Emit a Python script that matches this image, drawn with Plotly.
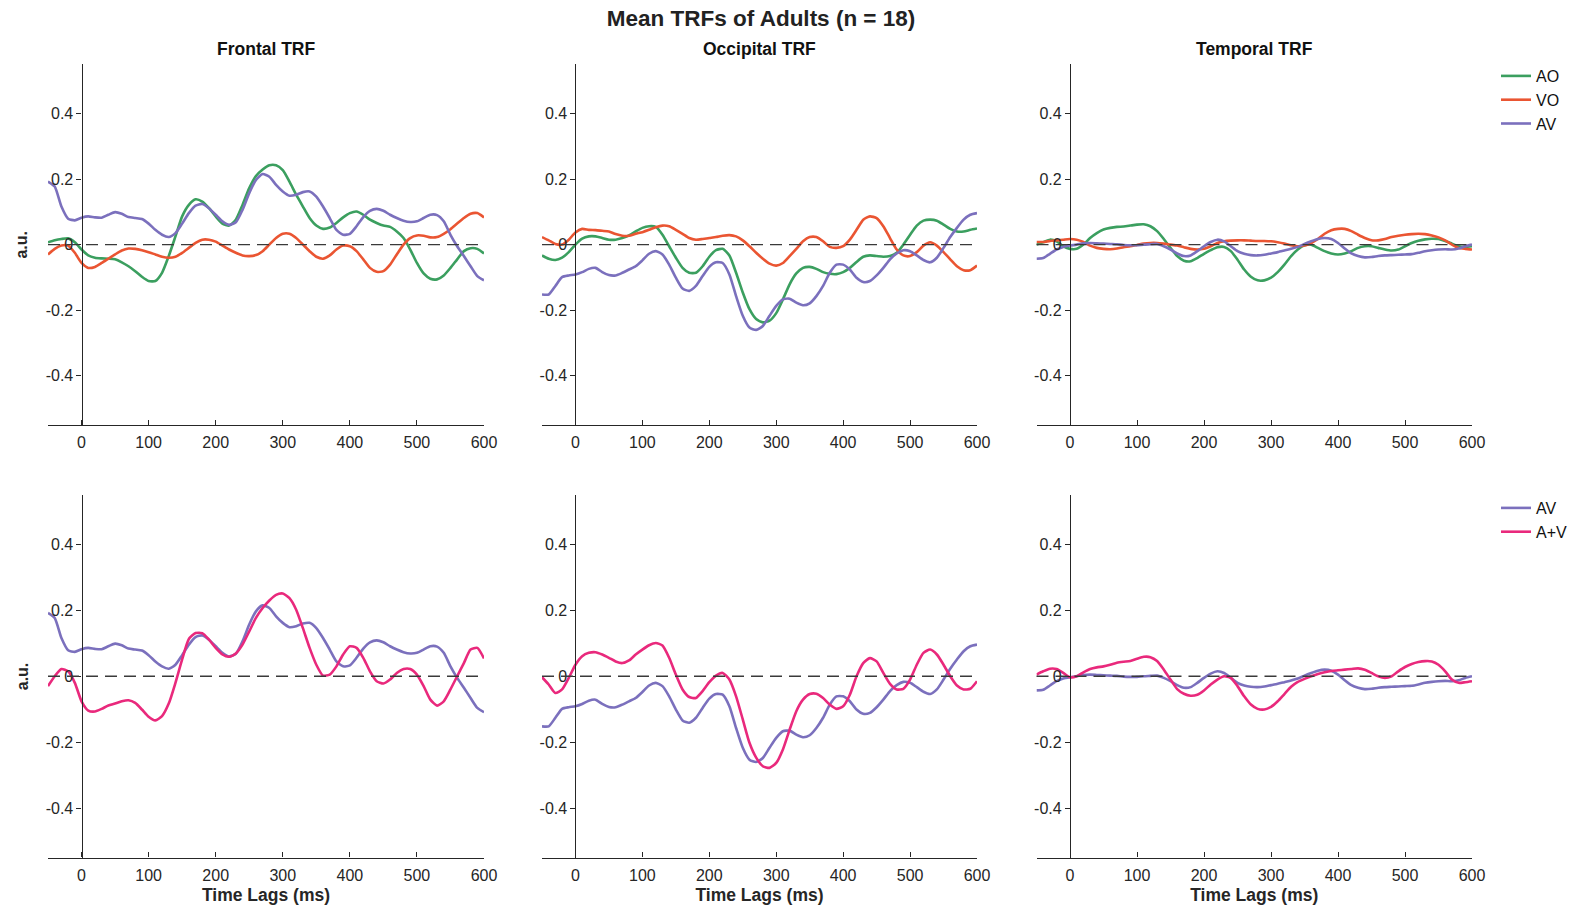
import plotly.graph_objects as go

lags = list(range(-50, 601, 10))

frontal_ao = [0.007, 0.013, 0.017, 0.019, 0.007, -0.015, -0.033, -0.040, -0.042, -0.043,
              -0.045, -0.054, -0.066, -0.081, -0.098, -0.111, -0.111, -0.086, -0.035, 0.025,
              0.086, 0.121, 0.138, 0.131, 0.111, 0.086, 0.064, 0.058, 0.076, 0.121,
              0.172, 0.209, 0.229, 0.242, 0.242, 0.227, 0.192, 0.152, 0.116, 0.081,
              0.058, 0.048, 0.052, 0.066, 0.083, 0.096, 0.101, 0.091, 0.076, 0.066,
              0.058, 0.054, 0.040, 0.020, -0.015, -0.056, -0.088, -0.104, -0.106, -0.094,
              -0.071, -0.045, -0.020, -0.011, -0.013, -0.027]
frontal_vo = [-0.030, -0.013, -0.003, -0.003, -0.025, -0.056, -0.071, -0.068, -0.056, -0.043,
              -0.030, -0.018, -0.012, -0.013, -0.017, -0.023, -0.030, -0.037, -0.040, -0.037,
              -0.025, -0.010, 0.005, 0.015, 0.015, 0.009, -0.003, -0.015, -0.025, -0.033,
              -0.035, -0.032, -0.020, 0.000, 0.020, 0.033, 0.033, 0.020, 0.000, -0.020,
              -0.037, -0.043, -0.033, -0.015, -0.003, -0.005, -0.020, -0.045, -0.071, -0.083,
              -0.081, -0.061, -0.030, 0.000, 0.020, 0.028, 0.027, 0.022, 0.023, 0.033,
              0.047, 0.064, 0.081, 0.094, 0.096, 0.083]
frontal_av = [0.192, 0.177, 0.116, 0.079, 0.074, 0.082, 0.086, 0.083, 0.082, 0.091,
              0.099, 0.094, 0.084, 0.081, 0.078, 0.064, 0.045, 0.030, 0.023, 0.035,
              0.064, 0.096, 0.119, 0.124, 0.111, 0.091, 0.071, 0.060, 0.068, 0.106,
              0.157, 0.197, 0.215, 0.207, 0.182, 0.162, 0.149, 0.152, 0.160, 0.162,
              0.146, 0.116, 0.081, 0.045, 0.030, 0.033, 0.056, 0.084, 0.103, 0.109,
              0.103, 0.091, 0.081, 0.073, 0.069, 0.071, 0.081, 0.091, 0.090, 0.071,
              0.030, -0.005, -0.035, -0.066, -0.096, -0.109]
frontal_apv = [-0.030, 0.000, 0.022, 0.015, -0.020, -0.076, -0.104, -0.107, -0.099, -0.089,
               -0.083, -0.076, -0.073, -0.081, -0.101, -0.123, -0.134, -0.121, -0.083, -0.020,
               0.051, 0.113, 0.131, 0.131, 0.111, 0.086, 0.066, 0.059, 0.069, 0.096,
               0.136, 0.177, 0.207, 0.230, 0.247, 0.251, 0.237, 0.202, 0.146, 0.086,
               0.035, 0.002, 0.005, 0.030, 0.066, 0.091, 0.086, 0.056, 0.015, -0.015,
               -0.022, -0.010, 0.010, 0.022, 0.022, 0.005, -0.030, -0.071, -0.089, -0.076,
               -0.040, 0.000, 0.040, 0.081, 0.086, 0.054]

occipital_ao = [-0.033, -0.043, -0.047, -0.040, -0.023, 0.000, 0.018, 0.025, 0.025, 0.020,
                0.015, 0.015, 0.020, 0.028, 0.040, 0.051, 0.056, 0.054, 0.030, -0.005,
                -0.040, -0.071, -0.086, -0.086, -0.066, -0.037, -0.017, -0.013, -0.033, -0.086,
                -0.146, -0.197, -0.227, -0.237, -0.232, -0.209, -0.167, -0.121, -0.088, -0.071,
                -0.068, -0.074, -0.084, -0.089, -0.090, -0.084, -0.071, -0.053, -0.037, -0.033,
                -0.035, -0.037, -0.035, -0.025, 0.000, 0.030, 0.058, 0.073, 0.076, 0.073,
                0.061, 0.048, 0.040, 0.040, 0.045, 0.049]
occipital_vo = [0.023, 0.013, 0.002, 0.000, 0.015, 0.037, 0.048, 0.045, 0.044, 0.042,
                0.040, 0.032, 0.027, 0.027, 0.033, 0.038, 0.045, 0.053, 0.058, 0.056,
                0.045, 0.033, 0.020, 0.015, 0.017, 0.020, 0.023, 0.027, 0.029, 0.025,
                0.013, -0.005, -0.025, -0.043, -0.058, -0.064, -0.056, -0.035, -0.013, 0.010,
                0.023, 0.023, 0.010, -0.007, -0.010, -0.005, 0.015, 0.045, 0.076, 0.086,
                0.081, 0.056, 0.020, -0.015, -0.033, -0.035, -0.023, -0.003, 0.007, -0.003,
                -0.023, -0.045, -0.066, -0.078, -0.078, -0.064]
occipital_av = [-0.152, -0.152, -0.126, -0.099, -0.094, -0.091, -0.084, -0.074, -0.071, -0.084,
                -0.093, -0.094, -0.086, -0.076, -0.066, -0.048, -0.028, -0.020, -0.030, -0.061,
                -0.101, -0.134, -0.141, -0.126, -0.096, -0.068, -0.054, -0.056, -0.091, -0.157,
                -0.217, -0.253, -0.260, -0.248, -0.217, -0.187, -0.167, -0.165, -0.177, -0.185,
                -0.179, -0.157, -0.126, -0.086, -0.061, -0.061, -0.076, -0.101, -0.114, -0.111,
                -0.094, -0.071, -0.045, -0.027, -0.017, -0.020, -0.033, -0.047, -0.054, -0.040,
                -0.010, 0.023, 0.051, 0.076, 0.091, 0.096]
occipital_apv = [-0.003, -0.025, -0.051, -0.040, -0.005, 0.035, 0.061, 0.071, 0.073, 0.066,
                 0.056, 0.045, 0.040, 0.048, 0.066, 0.081, 0.094, 0.101, 0.093, 0.056,
                 0.005, -0.040, -0.063, -0.066, -0.045, -0.018, 0.002, 0.010, -0.010, -0.061,
                 -0.131, -0.202, -0.247, -0.273, -0.278, -0.263, -0.222, -0.162, -0.106, -0.071,
                 -0.054, -0.053, -0.066, -0.086, -0.099, -0.091, -0.056, 0.000, 0.040, 0.055,
                 0.045, 0.010, -0.023, -0.040, -0.038, -0.010, 0.035, 0.071, 0.081, 0.066,
                 0.035, 0.000, -0.028, -0.040, -0.038, -0.015]

temporal_ao = [0.000, 0.007, 0.015, 0.010, -0.005, -0.013, -0.013, 0.000, 0.020, 0.035,
               0.046, 0.051, 0.054, 0.055, 0.058, 0.061, 0.062, 0.056, 0.041, 0.017,
               -0.010, -0.035, -0.049, -0.051, -0.041, -0.028, -0.017, -0.008, -0.007, -0.020,
               -0.046, -0.076, -0.098, -0.109, -0.109, -0.101, -0.084, -0.061, -0.035, -0.015,
               -0.002, 0.000, -0.010, -0.020, -0.027, -0.030, -0.027, -0.020, -0.010, -0.005,
               -0.005, -0.010, -0.015, -0.018, -0.015, -0.005, 0.005, 0.012, 0.016, 0.018,
               0.017, 0.011, 0.003, -0.005, -0.007, -0.005]
temporal_vo = [0.008, 0.008, 0.011, 0.013, 0.015, 0.017, 0.015, 0.008, -0.003, -0.010,
               -0.013, -0.014, -0.012, -0.008, -0.005, -0.001, 0.003, 0.005, 0.005, 0.003,
               0.000, -0.003, -0.008, -0.013, -0.015, -0.013, -0.005, 0.005, 0.010, 0.012,
               0.013, 0.013, 0.012, 0.011, 0.011, 0.010, 0.007, 0.003, -0.002, -0.005,
               -0.003, 0.005, 0.017, 0.033, 0.044, 0.048, 0.048, 0.041, 0.030, 0.020,
               0.013, 0.013, 0.017, 0.023, 0.027, 0.030, 0.032, 0.033, 0.032, 0.028,
               0.022, 0.013, 0.000, -0.010, -0.013, -0.015]
temporal_av = [-0.043, -0.041, -0.028, -0.015, -0.007, -0.003, 0.000, 0.004, 0.005, 0.004,
               0.003, 0.002, 0.001, -0.001, -0.002, -0.002, 0.000, 0.001, 0.002, -0.005,
               -0.015, -0.027, -0.035, -0.033, -0.020, -0.005, 0.008, 0.015, 0.010, -0.005,
               -0.020, -0.028, -0.032, -0.033, -0.031, -0.027, -0.023, -0.018, -0.013, -0.007,
               0.002, 0.010, 0.017, 0.020, 0.017, 0.005, -0.012, -0.027, -0.035, -0.039,
               -0.038, -0.035, -0.033, -0.032, -0.031, -0.030, -0.029, -0.025, -0.020, -0.017,
               -0.015, -0.014, -0.015, -0.012, -0.005, 0.000]
temporal_apv = [0.005, 0.015, 0.023, 0.022, 0.010, -0.003, 0.000, 0.012, 0.022, 0.027,
                0.030, 0.035, 0.041, 0.044, 0.046, 0.053, 0.059, 0.058, 0.046, 0.020,
                -0.010, -0.039, -0.053, -0.059, -0.056, -0.043, -0.025, -0.010, 0.000, -0.005,
                -0.030, -0.061, -0.086, -0.099, -0.101, -0.093, -0.076, -0.054, -0.032, -0.017,
                -0.008, 0.000, 0.007, 0.012, 0.016, 0.018, 0.020, 0.022, 0.024, 0.020,
                0.010, 0.000, -0.005, 0.000, 0.015, 0.028, 0.037, 0.043, 0.046, 0.045,
                0.035, 0.015, -0.010, -0.020, -0.018, -0.015]

region_titles = ["Frontal TRF", "Occipital TRF", "Temporal TRF"]
y_tickvals = [-0.4, -0.2, 0, 0.2, 0.4]
y_ticktext = ["-0.4", "-0.2", "0", "0.2", "0.4"]
x_tickvals = [0, 100, 200, 300, 400, 500, 600]

COLORS = {"AO": "#3b9f5f", "VO": "#ea5532", "AV": "#7b70bd", "A+V": "#e9297c"}

top_series = [
    {"AO": frontal_ao, "VO": frontal_vo, "AV": frontal_av},
    {"AO": occipital_ao, "VO": occipital_vo, "AV": occipital_av},
    {"AO": temporal_ao, "VO": temporal_vo, "AV": temporal_av},
]
bottom_series = [
    {"AV": frontal_av, "A+V": frontal_apv},
    {"AV": occipital_av, "A+V": occipital_apv},
    {"AV": temporal_av, "A+V": temporal_apv},
]

W, H = 1578, 908
col_dom = [(48 / W, 484 / W), (542 / W, 977 / W), (1036.5 / W, 1472 / W)]
row_dom = [(1 - 425 / H, 1 - 64.2 / H), (1 - 857.5 / H, 1 - 495 / H)]
XMIN, XMAX = -50, 600
YMIN, YMAX = -0.55, 0.55

FONT = "Liberation Sans, Arial, Helvetica, sans-serif"
AXC = "#262626"

fig = go.Figure()
layout = dict(
    width=W, height=H,
    margin=dict(l=0, r=0, t=0, b=0, autoexpand=False),
    paper_bgcolor="white", plot_bgcolor="white",
    font=dict(family=FONT, color=AXC, size=16),
    showlegend=True,
    annotations=[], shapes=[],
)

for r in range(2):
    for c in range(3):
        i = r * 3 + c + 1
        xn = "x" if i == 1 else f"x{i}"
        yn = "y" if i == 1 else f"y{i}"
        series = top_series[c] if r == 0 else bottom_series[c]
        for name, vals in series.items():
            fig.add_trace(go.Scatter(
                x=lags, y=vals, mode="lines", name=name,
                line=dict(color=COLORS[name], width=2.6, shape="spline", smoothing=0.6),
                xaxis=xn, yaxis=yn,
                legend="legend" if r == 0 else "legend2",
                showlegend=(c == 2),
                hoverinfo="skip",
            ))
        d0, d1 = col_dom[c]
        xpos = d0 + (d1 - d0) * (0 - XMIN) / (XMAX - XMIN)
        xa = dict(
            domain=[d0, d1], range=[XMIN, XMAX], anchor=yn,
            showgrid=False, zeroline=False, showline=True, linecolor=AXC, linewidth=1.2,
            ticks="inside", ticklen=5, tickwidth=1, tickcolor=AXC,
            tickvals=x_tickvals, tickfont=dict(size=16, color=AXC, family=FONT),
            ticklabelstandoff=3, automargin=False,
            fixedrange=True,
        )
        if r == 1:
            xa["title"] = dict(text="Time Lags (ms)", standoff=5,
                               font=dict(size=17.5, color=AXC, family=FONT, weight="bold"))
        ya = dict(
            domain=list(row_dom[r]), range=[YMIN, YMAX], anchor="free", position=xpos,
            showgrid=False, zeroline=False, showline=True, linecolor=AXC, linewidth=1.2,
            ticks="outside", ticklen=5, tickwidth=1, tickcolor=AXC,
            tickvals=y_tickvals, ticktext=y_ticktext,
            tickfont=dict(size=16, color=AXC, family=FONT),
            automargin=False, fixedrange=True,
        )
        layout["xaxis" if i == 1 else f"xaxis{i}"] = xa
        layout["yaxis" if i == 1 else f"yaxis{i}"] = ya
        layout["shapes"].append(dict(
            type="line", xref=f"{xn} domain", yref=yn, x0=0, x1=1, y0=0, y1=0,
            line=dict(color="#3a3a3a", width=1.4, dash="12px,7px"), layer="above",
        ))
        if r == 0:
            layout["annotations"].append(dict(
                text=region_titles[c], x=(d0 + d1) / 2, y=1 - 49 / H,
                xref="paper", yref="paper", xanchor="center", yanchor="middle",
                showarrow=False, font=dict(size=17.5, color="#111111", family=FONT, weight="bold"),
            ))
    layout["annotations"].append(dict(
        text="a.u.", x=22 / W, y=(row_dom[r][0] + row_dom[r][1]) / 2,
        xref="paper", yref="paper", xanchor="center", yanchor="middle",
        textangle=-90, showarrow=False,
        font=dict(size=16, color=AXC, family=FONT, weight="bold"),
    ))

layout["title"] = dict(
    text="Mean TRFs of Adults (n = 18)", x=761 / W, y=1 - 18 / H,
    xanchor="center", yanchor="middle", xref="paper", yref="paper",
    font=dict(size=22.5, color="#222222", family=FONT, weight="bold"),
)
layout["legend"] = dict(
    x=1496 / W, y=1 - 59 / H, xanchor="left", yanchor="top",
    bgcolor="rgba(255,255,255,0)", borderwidth=0,
    font=dict(size=16, color="#111111", family=FONT),
    itemwidth=30, tracegroupgap=0,
)
layout["legend2"] = dict(
    x=1496 / W, y=1 - 491 / H, xanchor="left", yanchor="top",
    bgcolor="rgba(255,255,255,0)", borderwidth=0,
    font=dict(size=16, color="#111111", family=FONT),
    itemwidth=30, tracegroupgap=0,
)

fig.update_layout(**layout)
fig.write_html("out.html")
